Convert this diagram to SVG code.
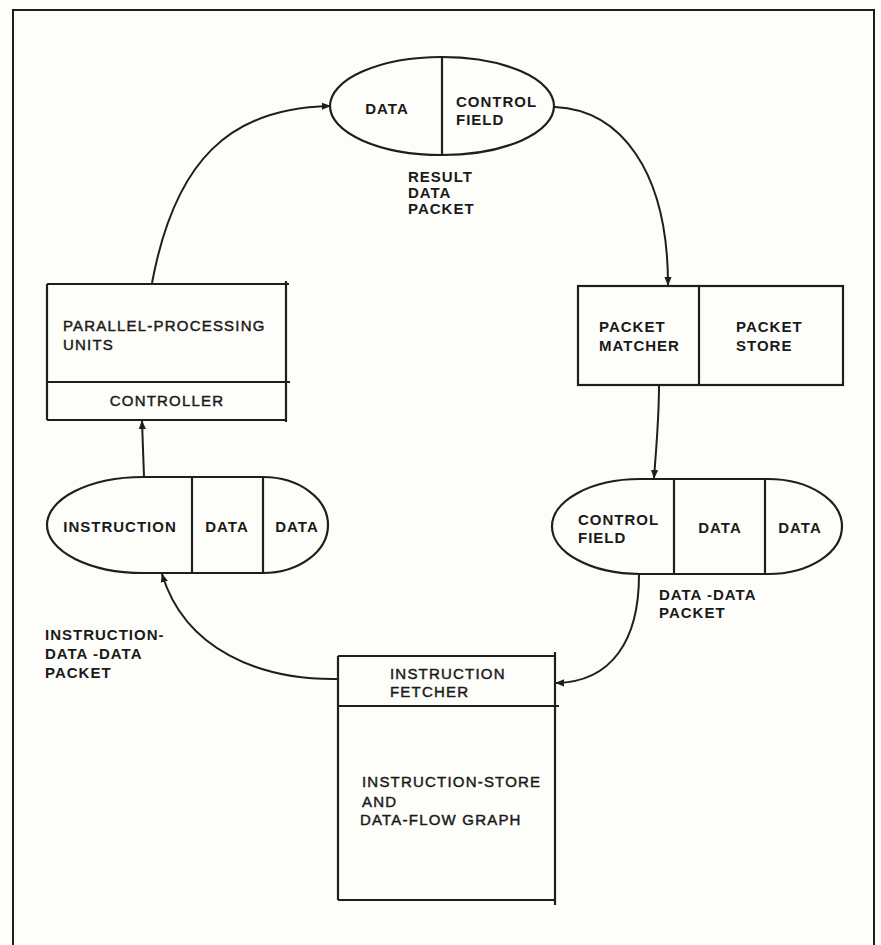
<svg xmlns="http://www.w3.org/2000/svg" width="881" height="945" viewBox="0 0 881 945">
  <style>
    .ln { fill: none; stroke: #1e1e1e; stroke-width: 2; }
    .shape { fill: none; stroke: #1e1e1e; stroke-width: 2.2; }
    .conn { fill: none; stroke: #1e1e1e; stroke-width: 2; }
    .lbl { font-family: "Liberation Sans", Arial, sans-serif; font-size: 15px; fill: #1a1a1a; letter-spacing: 1.2px; stroke: #1a1a1a; stroke-width: 0.45; }
    .b { font-weight: bold; letter-spacing: 1px; stroke: none; }
    .mid { text-anchor: middle; }
  </style>
  <defs>
    <marker id="arrow" viewBox="0 0 10 10" refX="9" refY="5" markerWidth="9" markerHeight="9" markerUnits="userSpaceOnUse" orient="auto">
      <path d="M0,1 L10,5 L0,9 Z" fill="#1e1e1e"/>
    </marker>
  </defs>

  <rect width="881" height="945" fill="#fdfdf9"/>

  <!-- outer frame (open at the bottom) -->
  <path class="ln" d="M13,945 V10 H874 V945"/>

  <!-- result data packet -->
  <g id="result-packet">
    <ellipse class="shape" cx="442" cy="106" rx="112" ry="49"/>
    <line class="shape" x1="442" y1="57" x2="442" y2="155"/>
    <text class="lbl b mid" x="387" y="114">DATA</text>
    <text class="lbl b" x="456" y="107">CONTROL</text>
    <text class="lbl b" x="456" y="125">FIELD</text>
    <text class="lbl b" x="408" y="182">RESULT</text>
    <text class="lbl b" x="408" y="198">DATA</text>
    <text class="lbl b" x="408" y="214">PACKET</text>
  </g>

  <!-- parallel-processing units with controller -->
  <g id="processing-units">
    <path class="shape" d="M47,284 H289 M47,382 H290 M47,420 H286 M47,284 V420 M286,281 V422"/>
    <text class="lbl" x="63" y="331">PARALLEL-PROCESSING</text>
    <text class="lbl" x="63" y="350">UNITS</text>
    <text class="lbl mid" x="167" y="406">CONTROLLER</text>
  </g>

  <!-- packet matcher / packet store -->
  <g id="packet-matcher">
    <rect class="shape" x="578" y="286" width="265" height="99"/>
    <line class="shape" x1="699" y1="286" x2="699" y2="385"/>
    <text class="lbl b" x="599" y="332">PACKET</text>
    <text class="lbl b" x="599" y="351">MATCHER</text>
    <text class="lbl b" x="736" y="332">PACKET</text>
    <text class="lbl b" x="736" y="351">STORE</text>
  </g>

  <!-- instruction-data-data packet -->
  <g id="instruction-packet">
    <path class="shape" d="M143,477 H263 A65,48 0 0 1 263,573 H143 A96,48 0 0 1 143,477 Z"/>
    <line class="shape" x1="192" y1="477" x2="192" y2="573"/>
    <line class="shape" x1="263" y1="477" x2="263" y2="573"/>
    <text class="lbl b mid" x="120" y="532">INSTRUCTION</text>
    <text class="lbl b mid" x="227" y="532">DATA</text>
    <text class="lbl b mid" x="297" y="532">DATA</text>
    <text class="lbl b" x="45" y="640">INSTRUCTION-</text>
    <text class="lbl b" x="45" y="659">DATA -DATA</text>
    <text class="lbl b" x="45" y="678">PACKET</text>
  </g>

  <!-- data-data packet -->
  <g id="data-data-packet">
    <path class="shape" d="M640,479 H768 A74,47.5 0 0 1 768,574 H640 A88,47.5 0 0 1 640,479 Z"/>
    <line class="shape" x1="674" y1="479" x2="674" y2="574"/>
    <line class="shape" x1="765" y1="479" x2="765" y2="574"/>
    <text class="lbl b" x="578" y="525">CONTROL</text>
    <text class="lbl b" x="578" y="543">FIELD</text>
    <text class="lbl b mid" x="720" y="533">DATA</text>
    <text class="lbl b mid" x="800" y="533">DATA</text>
    <text class="lbl b" x="659" y="600">DATA -DATA</text>
    <text class="lbl b" x="659" y="618">PACKET</text>
  </g>

  <!-- instruction fetcher over instruction store -->
  <g id="instruction-fetcher">
    <path class="shape" d="M338,656 H555 M338,706 H559 M338,900 H555 M338,656 V900 M555,652 V905"/>
    <text class="lbl" x="390" y="679">INSTRUCTION</text>
    <text class="lbl" x="390" y="697">FETCHER</text>
    <text class="lbl" x="362" y="787">INSTRUCTION-STORE</text>
    <text class="lbl" x="362" y="807">AND</text>
    <text class="lbl" x="360" y="825">DATA-FLOW GRAPH</text>
  </g>

  <!-- connectors -->
  <g id="connectors">
    <path class="conn" marker-end="url(#arrow)" d="M152,283 C175,160 230,108 330,106"/>
    <path class="conn" marker-end="url(#arrow)" d="M555,107 C620,110 668,170 668,285"/>
    <path class="conn" marker-end="url(#arrow)" d="M659,385 C659,420 656,450 654,478"/>
    <path class="conn" marker-end="url(#arrow)" d="M639,575 C639,640 612,682 556,683"/>
    <path class="conn" marker-end="url(#arrow)" d="M337,679 C260,680 185,650 162,574"/>
    <path class="conn" marker-end="url(#arrow)" d="M144,477 L142,421"/>
  </g>
</svg>
